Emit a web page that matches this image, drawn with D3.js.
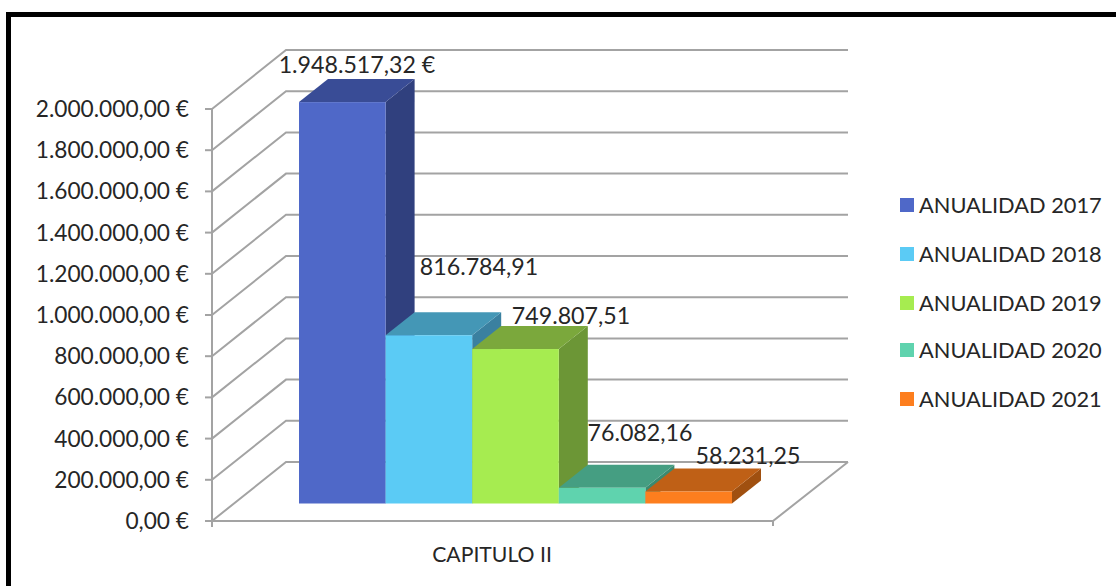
<!DOCTYPE html>
<html><head><meta charset="utf-8">
<script src="https://cdn.jsdelivr.net/npm/d3@7"></script>
<style>html,body{margin:0;padding:0;background:#fff}svg{display:block}text{font-family:Lato,"Open Sans",sans-serif;fill:#262626}</style>
</head><body><svg id="c" width="1116" height="586"></svg>
<script>
const category = "CAPITULO II";
const seriesNames = ["ANUALIDAD 2017","ANUALIDAD 2018","ANUALIDAD 2019","ANUALIDAD 2020","ANUALIDAD 2021"];
const values = [1948517.32, 816784.91, 749807.51, 76082.16, 58231.25];
const valueLabels = ["1.948.517,32 €","816.784,91","749.807,51","76.082,16","58.231,25"];
const colors = ["#4f68c8","#5bcbf5","#a6ec50","#5fd3ae","#fd7e1e"];
const topColors = ["#394c96","#4497b6","#7ba83c","#459e82","#bf6016"];
const sideColors = ["#30407e","#3a80a0","#6c9636","#3b8a70","#a05010"];
const ticks = [0,200000,400000,600000,800000,1000000,1200000,1400000,1600000,1800000,2000000];
const tickLabels = ["0,00 €","200.000,00 €","400.000,00 €","600.000,00 €","800.000,00 €","1.000.000,00 €","1.200.000,00 €","1.400.000,00 €","1.600.000,00 €","1.800.000,00 €","2.000.000,00 €"];
const labelCenterX = [357,479,571,640,748];
const labelBaseline = [73,275,324,441,464];
const legendY = [205,254,303,350,399];

const svg = d3.select("#c");
const y = d3.scaleLinear().domain([0,2000000]).range([521,109]);
const grid = "#a3a3a3";
const fx0=212, fx1=773, bx0=286, bx1=848, wallDy=-59;

svg.append("path").attr("d","M8.5 586V14.5H1116").attr("fill","none").attr("stroke","#000").attr("stroke-width",5);

// gridlines
svg.append("g").selectAll("path").data(ticks).join("path")
  .attr("d",d=>`M${fx0} ${y(d)}L${bx0} ${y(d)+wallDy}H${bx1}`)
  .attr("fill","none").attr("stroke",grid).attr("stroke-width",2);
// axis + floor
svg.append("path").attr("d",`M${fx0} ${y(2000000)}V527M${fx0} ${y(0)}H${fx1}L${bx1} ${y(0)+wallDy}M${fx1} ${y(0)}V526`)
  .attr("fill","none").attr("stroke",grid).attr("stroke-width",2);
svg.append("g").selectAll("line").data(ticks).join("line")
  .attr("x1",205).attr("x2",fx0).attr("y1",d=>y(d)).attr("y2",d=>y(d))
  .attr("stroke",grid).attr("stroke-width",2);
svg.append("g").selectAll("text").data(ticks).join("text")
  .attr("x",189).attr("y",d=>y(d)+8).attr("text-anchor","end")
  .attr("font-size",22.7).text((d,i)=>tickLabels[i]);

// bars
const x = d3.scaleBand().domain(seriesNames).range([299,732]);
const baseY = 503.5, dx=29, dy=-23, h0=y(0);
const bars = svg.append("g").selectAll("g").data(values).join("g");
const bTop = v=>baseY-(h0-y(v));
bars.append("path").attr("fill",(d,i)=>sideColors[i]).attr("d",(d,i)=>{
  const r=x(seriesNames[i])+x.bandwidth(), t=bTop(d);
  return `M${r} ${t}l${dx} ${dy}V${baseY+dy}L${r} ${baseY}Z`;});
bars.append("path").attr("fill",(d,i)=>topColors[i]).attr("d",(d,i)=>{
  const l=x(seriesNames[i]), t=bTop(d);
  return `M${l} ${t}l${dx} ${dy}h${x.bandwidth()}l${-dx} ${-dy}Z`;});
bars.append("rect").attr("fill",(d,i)=>colors[i])
  .attr("x",(d,i)=>x(seriesNames[i])).attr("width",x.bandwidth())
  .attr("y",d=>bTop(d)).attr("height",d=>baseY-bTop(d));

svg.append("g").selectAll("text").data(values).join("text")
  .attr("x",(d,i)=>labelCenterX[i]).attr("y",(d,i)=>labelBaseline[i])
  .attr("text-anchor","middle").attr("font-size",23.2).text((d,i)=>valueLabels[i]);

svg.append("text").attr("x",492).attr("y",562).attr("text-anchor","middle").attr("font-size",21.2).text(category);

// legend
const lg = svg.append("g").selectAll("g").data(seriesNames).join("g")
  .attr("transform",(d,i)=>`translate(900,${legendY[i]})`);
lg.append("rect").attr("x",0).attr("y",-7).attr("width",14).attr("height",14).attr("fill",(d,i)=>colors[i]);
lg.append("text").attr("x",19).attr("y",8).attr("font-size",21.8).text(d=>d);
</script></body></html>
